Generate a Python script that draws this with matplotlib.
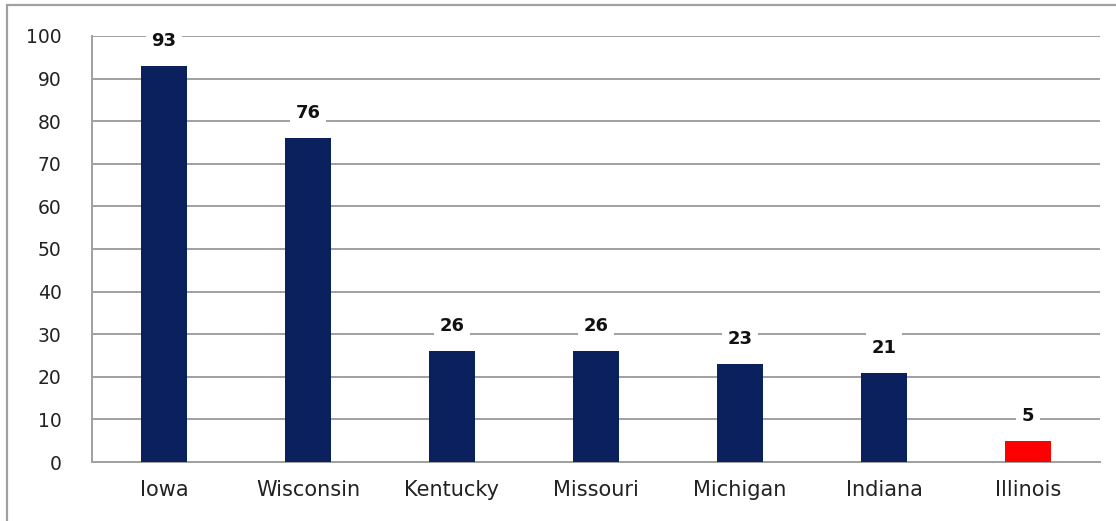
import matplotlib
matplotlib.use("Agg")
import matplotlib.pyplot as plt
from matplotlib.patches import Rectangle

# data
states = ["Iowa", "Wisconsin", "Kentucky", "Missouri", "Michigan", "Indiana", "Illinois"]
values = [93, 76, 26, 26, 23, 21, 5]
highlight = "Illinois"

NAVY = "#0a215e"
RED = "#ff0000"
GRID = "#a0a0a0"

plt.rcParams["font.family"] = ["DejaVu Sans"]

fig = plt.figure(figsize=(11.16, 5.21), dpi=100)
ax = fig.add_axes([92 / 1116, 1 - 462 / 521, (1100 - 92) / 1116, (462 - 36) / 521])

# outer frame (only top and left edges fall inside the image)
fig.patches.append(Rectangle((7 / 1116, -0.2), 1.2, 1.2 - 5 / 521,
                             transform=fig.transFigure, fill=False,
                             edgecolor=GRID, linewidth=1.6))

colors = [RED if s == highlight else NAVY for s in states]
x = range(len(states))
bars = ax.bar(x, values, width=0.32, color=colors, zorder=3)

for b, v in zip(bars, values):
    ax.annotate(str(v), (b.get_x() + b.get_width() / 2, v),
                xytext=(0, 18), textcoords="offset points",
                ha="center", va="center", fontsize=13, fontweight="bold",
                color="#111111", zorder=4,
                bbox=dict(boxstyle="square,pad=0.3", fc="white", ec="none"))

ax.set_xlim(-0.5, len(states) - 0.5)
ax.set_ylim(0, 100)
ax.set_yticks(range(0, 101, 10))
ax.set_xticks(list(x))
ax.set_xticklabels(states, fontsize=15, color="#222222")
ax.tick_params(axis="y", length=0, pad=22, labelsize=13.5, labelcolor="#222222")
ax.tick_params(axis="x", length=0, pad=13)

ax.yaxis.grid(True, color=GRID, linewidth=1.4, zorder=0)
ax.set_axisbelow(True)
for side in ["top", "right"]:
    ax.spines[side].set_visible(False)
for side in ["left", "bottom"]:
    ax.spines[side].set_color(GRID)
    ax.spines[side].set_linewidth(1.4)

fig.savefig("out.png", dpi=100)
